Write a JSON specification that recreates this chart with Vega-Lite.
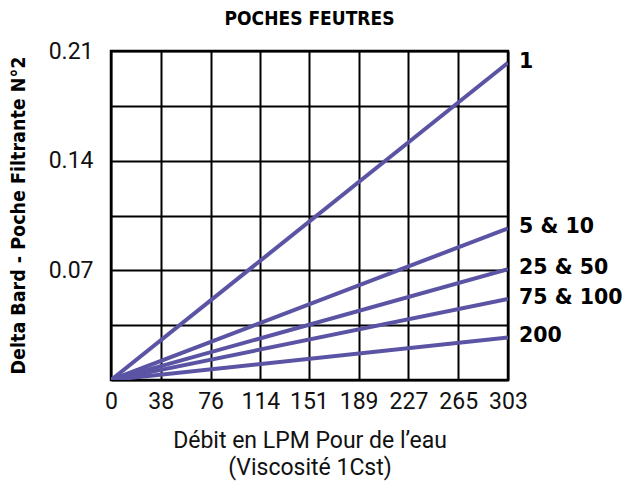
{
  "$schema": "https://vega.github.io/schema/vega-lite/v6.json",
  "width": 397,
  "height": 329,
  "autosize": {"type": "none"},
  "padding": {"left": 111, "top": 51, "right": 115, "bottom": 105},
  "background": "white",
  "title": {
    "text": "POCHES FEUTRES",
    "font": "DejaVu Sans Condensed",
    "fontWeight": "bold",
    "fontSize": 19,
    "color": "black",
    "anchor": "middle",
    "offset": 11
  },
  "datasets": {
    "lines": [
      {"debit": 0, "delta": 0, "serie": "1"},
      {"debit": 303, "delta": 0.2025, "serie": "1"},
      {"debit": 0, "delta": 0, "serie": "5 & 10"},
      {"debit": 303, "delta": 0.0968, "serie": "5 & 10"},
      {"debit": 0, "delta": 0, "serie": "25 & 50"},
      {"debit": 303, "delta": 0.0707, "serie": "25 & 50"},
      {"debit": 0, "delta": 0, "serie": "75 & 100"},
      {"debit": 303, "delta": 0.0517, "serie": "75 & 100"},
      {"debit": 0, "delta": 0, "serie": "200"},
      {"debit": 303, "delta": 0.0272, "serie": "200"}
    ]
  },
  "config": {
    "view": {"stroke": "black", "strokeWidth": 2.5},
    "axis": {
      "grid": true,
      "gridColor": "black",
      "gridWidth": 2,
      "gridOpacity": 1,
      "ticks": false,
      "domain": false,
      "labelFont": "Roboto",
      "labelFontWeight": "normal",
      "labelFontSize": 23,
      "labelColor": "#111",
      "labelOverlap": false,
      "labelBound": false,
      "labelFlush": false,
      "titleColor": "#111"
    }
  },
  "layer": [
    {
      "data": {"name": "lines"},
      "mark": {"type": "line", "color": "#5b54a4", "strokeWidth": 4, "clip": true},
      "encoding": {
        "x": {
          "field": "debit",
          "type": "quantitative",
          "scale": {"domain": [0, 303], "nice": false},
          "axis": {
            "values": [0, 38, 76, 114, 151, 189, 227, 265, 303],
            "labelPadding": 10,
            "title": ["Débit en LPM Pour de l’eau", "(Viscosité 1Cst)"],
            "titleFont": "Roboto",
            "titleFontSize": 23,
            "titleFontWeight": "normal",
            "titlePadding": 16,
            "titleLineHeight": 27
          }
        },
        "y": {
          "field": "delta",
          "type": "quantitative",
          "scale": {"domain": [0, 0.21], "nice": false},
          "axis": {
            "values": [0, 0.035, 0.07, 0.105, 0.14, 0.175, 0.21],
            "labelExpr": "round(datum.value*1000) % 70 == 0 && datum.value > 0 ? format(datum.value, '.2f') : ''",
            "labelPadding": 18,
            "title": "Delta Bard - Poche Filtrante N°2",
            "titleFont": "DejaVu Sans Condensed",
            "titleFontWeight": "bold",
            "titleFontSize": 19.5,
            "titleX": -93,
            "titleY": 164,
            "titleBaseline": "middle",
            "titleAlign": "center",
            "titleColor": "black"
          }
        },
        "detail": {"field": "serie"}
      }
    },
    {
      "data": {"name": "lines"},
      "transform": [{"filter": "datum.debit == 303"}],
      "mark": {
        "type": "text",
        "align": "left",
        "baseline": "middle",
        "dx": 11,
        "dy": -1,
        "font": "DejaVu Sans",
        "fontWeight": "bold",
        "fontSize": 20.5,
        "color": "black"
      },
      "encoding": {
        "x": {"field": "debit", "type": "quantitative"},
        "y": {"field": "delta", "type": "quantitative"},
        "text": {"field": "serie"}
      }
    }
  ]
}
